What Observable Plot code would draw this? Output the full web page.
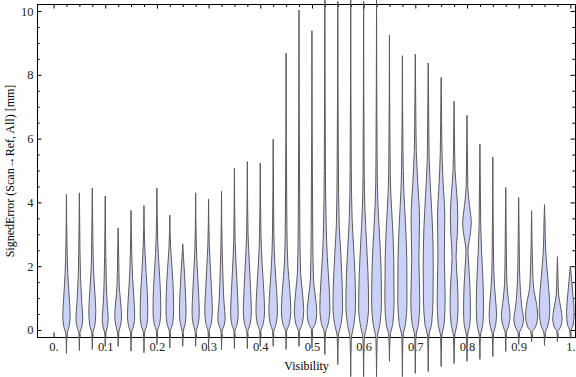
<!DOCTYPE html>
<html><head><meta charset="utf-8">
<script src="https://cdn.jsdelivr.net/npm/d3@7"></script>
<script src="https://cdn.jsdelivr.net/npm/@observablehq/plot@0.6"></script>
<style>body{margin:0;background:#fff;}</style>
</head><body><div id="chart"></div>
<script>
// Violin centres (Visibility)
const positions = [0.025,0.05,0.075,0.1,0.125,0.15,0.175,0.2,0.225,0.25,
  0.275,0.3,0.325,0.35,0.375,0.4,0.425,0.45,0.475,0.5,
  0.525,0.55,0.575,0.6,0.625,0.65,0.675,0.7,0.725,0.75,
  0.775,0.8,0.825,0.85,0.875,0.9,0.925,0.95,0.975,1.0];
// Minimum and maximum SignedError of each group [mm]
const mins = [-0.72,-0.63,-0.6,-0.5,-0.5,-0.65,-0.7,-0.45,-0.55,-0.5,
  -0.5,-0.6,-0.6,-0.57,-0.57,-0.5,-0.5,-0.6,-0.5,-0.56,
  -0.76,-1.07,-1.45,-1.45,-1.45,-0.97,-1.45,-1.35,-1.29,-1.13,
  -1.04,-0.97,-0.91,-0.82,-0.66,-0.44,-0.35,-0.47,-0.35,-0.25];
const maxs = [4.25,4.3,4.45,4.2,3.2,3.75,3.9,4.45,3.6,2.7,
  4.3,4.1,4.35,5.07,5.28,5.23,5.98,8.68,10.03,9.38,
  10.5,10.3,10.5,10.3,10.5,9.25,8.6,8.65,8.37,7.92,
  7.17,6.73,5.83,5.42,4.47,4.15,3.74,3.93,2.3,2.0];
// Density profile of each group: [SignedError, relative density]
const profiles = [
  [[-0.15,0.5],[0.1,2.6],[0.45,3.7],[1.0,2.8],[1.8,1.3],[2.6,0.6]],
  [[-0.1,0.5],[0.1,2.4],[0.35,3.4],[0.9,2.3],[1.7,1.1],[2.5,0.6]],
  [[-0.1,0.5],[0.15,2.6],[0.6,3.5],[1.2,2.5],[2.0,1.1],[2.8,0.6]],
  [[-0.1,0.5],[0.1,2.2],[0.35,3.0],[0.8,2.0],[1.5,1.1],[2.3,0.6]],
  [[-0.1,0.5],[0.15,2.4],[0.45,3.4],[0.9,2.4],[1.4,1.1],[2.2,0.6]],
  [[-0.1,0.5],[0.15,2.7],[0.45,3.6],[1.0,2.8],[1.6,1.6],[2.4,0.7]],
  [[-0.1,0.5],[0.15,2.8],[0.5,3.8],[1.1,3.4],[1.8,2.1],[2.6,0.8]],
  [[-0.05,0.5],[0.2,2.8],[0.6,3.9],[1.3,3.4],[2.0,2.1],[2.8,0.8]],
  [[-0.05,0.5],[0.2,2.8],[0.6,3.8],[1.2,3.5],[1.9,2.3],[2.6,0.8]],
  [[-0.05,0.5],[0.2,2.4],[0.55,3.3],[1.1,2.8],[1.8,1.7],[2.3,0.7]],
  [[-0.05,0.5],[0.2,2.6],[0.55,3.6],[1.1,3.0],[1.8,1.9],[2.6,0.7]],
  [[-0.05,0.5],[0.2,2.7],[0.6,3.8],[1.2,3.0],[1.9,1.9],[2.7,0.7]],
  [[-0.05,0.5],[0.15,2.6],[0.35,3.7],[0.9,2.4],[1.6,1.5],[2.6,0.6]],
  [[-0.05,0.5],[0.2,2.8],[0.55,3.8],[1.2,3.0],[1.9,1.9],[2.8,0.7]],
  [[-0.05,0.5],[0.2,2.9],[0.6,4.0],[1.3,3.2],[2.1,2.0],[3.0,0.7]],
  [[-0.05,0.5],[0.2,3.0],[0.6,4.3],[1.3,3.4],[2.0,2.0],[3.0,0.7]],
  [[-0.05,0.5],[0.2,3.0],[0.6,4.3],[1.3,3.3],[2.0,1.8],[3.0,0.7]],
  [[-0.05,0.5],[0.2,3.3],[0.6,4.7],[1.3,3.6],[2.0,1.8],[3.2,0.8]],
  [[-0.05,0.5],[0.2,3.3],[0.6,4.7],[1.2,3.3],[1.8,1.6],[3.2,0.8]],
  [[0,0.5],[0.2,3.4],[0.55,4.8],[1.1,3.2],[1.6,1.5],[3.0,0.8]],
  [[-0.1,0.6],[0.2,3.4],[0.7,5.0],[1.5,4.0],[2.3,2.4],[3.3,1.3],[5.0,0.6]],
  [[-0.2,0.6],[0.2,3.3],[0.8,4.8],[1.6,4.2],[2.4,3.0],[3.3,1.4],[5.2,0.6]],
  [[-0.3,0.6],[0.2,3.3],[0.8,4.8],[1.8,4.2],[2.6,2.9],[3.5,1.4],[5.0,0.6]],
  [[-0.3,0.6],[0.2,3.5],[0.7,5.0],[1.8,4.3],[2.8,2.8],[3.8,1.3],[4.8,0.6]],
  [[-0.3,0.6],[0.2,3.4],[0.9,4.9],[2.0,4.4],[3.0,2.9],[4.0,1.3],[5.2,0.6]],
  [[-0.2,0.6],[0.2,3.3],[0.9,4.6],[2.2,4.3],[3.3,3.0],[4.3,1.3],[5.5,0.6]],
  [[-0.2,0.6],[0.2,3.2],[0.9,4.6],[2.2,4.4],[3.4,3.0],[4.4,1.4],[5.6,0.6]],
  [[-0.2,0.6],[0.2,3.2],[0.9,4.5],[2.2,3.6],[3.5,4.2],[4.6,2.5],[5.6,1.0],[6.5,0.6]],
  [[-0.2,0.6],[0.2,3.4],[1.0,4.8],[2.0,5.0],[3.2,4.3],[4.3,2.5],[5.3,1.0],[6.3,0.6]],
  [[-0.2,0.6],[0.2,3.0],[1.0,4.0],[2.3,3.2],[3.6,3.6],[4.6,2.0],[5.5,0.9],[6.5,0.5]],
  [[-0.2,0.6],[0.2,3.0],[0.8,4.0],[1.5,3.3],[2.3,2.0],[3.0,3.2],[3.6,3.7],[4.3,2.6],[5.0,1.0],[5.8,0.5]],
  [[-0.2,0.5],[0.2,2.9],[0.6,3.4],[1.3,3.0],[2.0,1.8],[2.5,1.0],[2.9,2.8],[3.35,4.3],[3.9,2.5],[4.5,0.8],[5.2,0.5]],
  [[-0.2,0.5],[0.2,3.0],[0.8,3.6],[1.6,3.0],[2.5,1.6],[3.3,0.8],[4.3,0.5]],
  [[-0.15,0.5],[0.15,2.8],[0.5,3.7],[1.0,2.6],[1.7,1.1],[2.6,0.6]],
  [[-0.1,0.5],[0.15,3.0],[0.45,4.3],[0.95,2.6],[1.5,1.1],[2.5,0.6]],
  [[-0.1,0.6],[0.1,3.5],[0.35,4.8],[0.7,3.2],[1.2,1.8],[2.0,0.8],[2.8,0.5]],
  [[-0.05,0.8],[0.1,4.0],[0.45,6.0],[0.9,4.5],[1.3,2.0],[2.0,1.0],[2.6,0.5]],
  [[-0.1,0.6],[0.15,3.5],[0.65,5.3],[1.3,4.2],[2.0,2.3],[2.6,1.0],[3.4,0.5]],
  [[-0.05,0.6],[0.1,3.3],[0.35,4.7],[0.75,3.0],[1.1,1.2],[1.7,0.5]],
  [[0,0.6],[0.15,2.8],[0.55,3.8],[1.1,2.6],[1.6,1.2]]
];
const xTickValues = [0,0.1,0.2,0.3,0.4,0.5,0.6,0.7,0.8,0.9,1];
const xTickLabels = ["0.","0.1","0.2","0.3","0.4","0.5","0.6","0.7","0.8","0.9","1."];
const yTickValues = [0,2,4,6,8,10];
const yTickLabels = ["0","2","4","6","8","10"];
const xTitle = "Visibility";
const yTitle = "SignedError (Scan\u2192Ref, All) [mm]";

const W = 576, H = 377, mL = 37, mR = 1, mT = 4, mB = 40;
const xDom = [-0.032, 1.009], yDom = [-0.22, 10.22];
const pxX = (xDom[1] - xDom[0]) / (W - mL - mR);
const pxY = (yDom[1] - yDom[0]) / (H - mT - mB);

const rows = [];
positions.forEach((p, i) => {
  const knots = [[mins[i], 0], ...profiles[i], [maxs[i], 0]];
  for (const [v, d] of knots) rows.push({p, v, x1: p - d * pxX, x2: p + d * pxX});
});

const xMinor = d3.range(0, 41).map(k => k * 0.025);
const yMinor = d3.range(0, 21).map(k => k * 0.5);
const isMajorX = d => Math.abs(d * 10 - Math.round(d * 10)) < 1e-6;
const isMajorY = d => Math.abs(d / 2 - Math.round(d / 2)) < 1e-6;
const lenX = d => (isMajorX(d) ? 4.5 : 3);
const lenY = d => (isMajorY(d) ? 4.5 : 2.7);

const chart = Plot.plot({
  width: W, height: H,
  marginLeft: mL, marginRight: mR, marginTop: mT, marginBottom: mB,
  x: {domain: xDom, axis: null},
  y: {domain: yDom, axis: null},
  style: {fontFamily: "'Liberation Serif', 'Times New Roman', serif", fontSize: "12.5px", background: "#fff", color: "#000"},
  marks: [
    Plot.frame({stroke: "#000", strokeWidth: 1}),
    // inward frame ticks
    Plot.ruleX(xMinor, {x: d => d, y1: yDom[0], y2: d => yDom[0] + lenX(d) * pxY, stroke: "#000"}),
    Plot.ruleX(xMinor, {x: d => d, y1: yDom[1], y2: d => yDom[1] - lenX(d) * pxY, stroke: "#000"}),
    Plot.ruleY(yMinor, {y: d => d, x1: xDom[0], x2: d => xDom[0] + lenY(d) * pxX, stroke: "#000"}),
    Plot.ruleY(yMinor, {y: d => d, x1: xDom[1], x2: d => xDom[1] - lenY(d) * pxX, stroke: "#000"}),
    Plot.axisX({ticks: xTickValues, tickFormat: d => xTickLabels[xTickValues.indexOf(d)], tickSize: 0, tickPadding: 5, label: null, fill: "#222"}),
    Plot.axisY({ticks: yTickValues, tickFormat: d => yTickLabels[yTickValues.indexOf(d)], tickSize: 0, tickPadding: 4, label: null, fill: "#222"}),
    Plot.areaX(rows, {x1: "x1", x2: "x2", y: "v", z: "p", fill: "#ccd2f7", stroke: "#5a5a5a", strokeWidth: 1, curve: "monotone-y"}),
    Plot.text([xTitle], {text: d => d, frameAnchor: "bottom", dy: 32, fontSize: 12, fill: "#000"}),
    Plot.text([yTitle], {text: d => d, frameAnchor: "left", textAnchor: "middle", dx: -27, rotate: -90, fontSize: 12, fill: "#000"})
  ]
});
document.getElementById("chart").appendChild(chart);
</script>
</body></html>
